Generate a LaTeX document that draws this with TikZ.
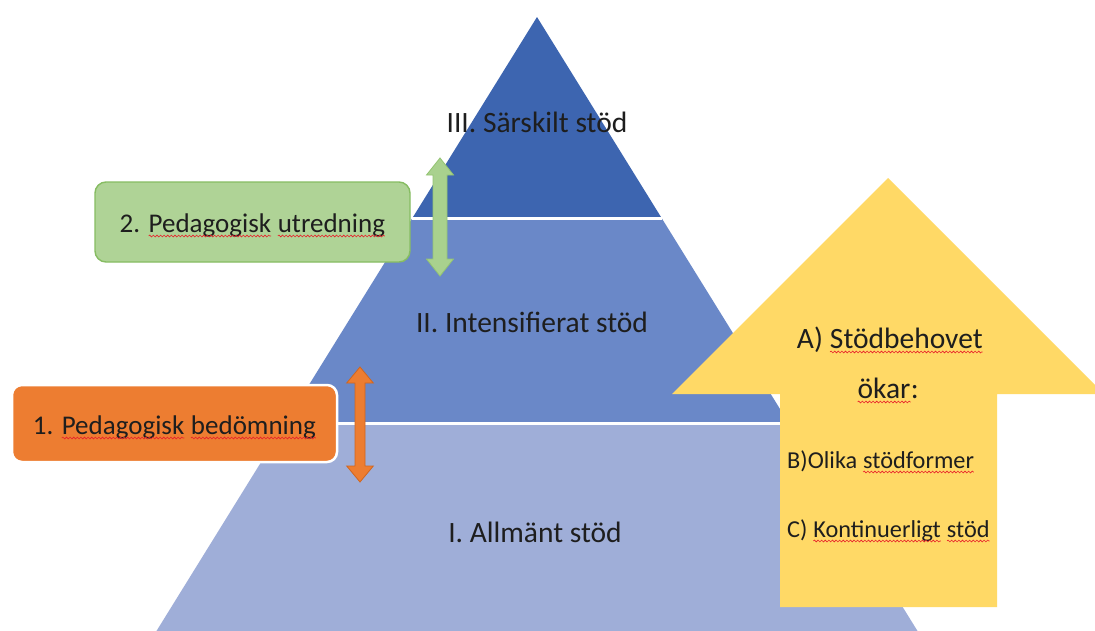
\documentclass[tikz,border=0pt]{standalone}
\usepackage{fontspec}
\setmainfont{Carlito}
\usetikzlibrary{decorations.pathmorphing}
\definecolor{spell}{HTML}{E8202A}
\definecolor{ink}{HTML}{1E1E1E}
\definecolor{topblue}{HTML}{3D65B0}
\definecolor{midblue}{HTML}{6A88C8}
\definecolor{botblue}{HTML}{9FAED8}
\definecolor{gfill}{HTML}{AFD396}
\definecolor{gline}{HTML}{86BC62}
\definecolor{garrow}{HTML}{A9D18E}
\definecolor{garrowline}{HTML}{93C472}
\definecolor{ofill}{HTML}{ED7D31}
\definecolor{oline}{HTML}{D0661F}
\definecolor{yfill}{HTML}{FFD966}
\newcommand\redwave[1]{\tikz[baseline=(w.base)]{\node[inner sep=0pt, outer sep=0pt] (w) {#1};
  \draw[spell, line width=0.6pt, decorate, decoration={snake, amplitude=0.9pt, segment length=3.6pt}]
  ([yshift=-4pt]w.base west) -- ([yshift=-4pt]w.base east);}}
\begin{document}
\begin{tikzpicture}[x=1pt,y=-1pt,
  lbl/.style={font=\fontsize{29.5}{35}\selectfont, text=ink, inner sep=0pt},
  boxtxt/.style={font=\fontsize{27}{32}\selectfont, text=ink, inner sep=0pt},
  smalltxt/.style={font=\fontsize{24.3}{29}\selectfont, text=ink, inner sep=0pt},
  gbox/.style={draw=gline, fill=gfill, line width=1.4pt, rounded corners=11pt, minimum width=315pt, minimum height=80pt, inner sep=0pt},
  obox/.style={draw=white, fill=ofill, line width=2.5pt, rounded corners=10pt, minimum width=325pt, minimum height=77pt, inner sep=0pt}]
\useasboundingbox (0,0) rectangle (1095,630);
\clip (0,0) rectangle (1095,630);
\fill[white] (0,0) rectangle (1095,630);

% pyramid bands
\coordinate (apex) at (537,17);
\coordinate (l1) at (412.4,218); \coordinate (r1) at (661.6,218);
\coordinate (l2) at (285.3,423); \coordinate (r2) at (788.7,423);
\coordinate (l3) at (154,635); \coordinate (r3) at (920,635);
\fill[topblue] (apex) -- (r1) -- (l1) -- cycle;
\fill[midblue] (l1) -- (r1) -- (r2) -- (l2) -- cycle;
\fill[botblue] (l2) -- (r2) -- (r3) -- (l3) -- cycle;
\draw[white, line width=3pt] (l1) -- (r1);
\draw[white, line width=3pt] (l2) -- (r2);

\node[lbl, anchor=base] (t3) at (537,132) {III. Särskilt stöd};
\node[lbl, anchor=base] (t2) at (532,332) {II. Intensifierat stöd};
\node[lbl, anchor=base] (t1) at (535,542) {I. Allmänt stöd};

% green box and double arrow
\node[gbox] (box2) at (252.5,222) {};
\node[boxtxt, anchor=base] (box2txt) at (252.5,232) {2. \redwave{Pedagogisk} \redwave{utredning}};
\draw[fill=garrow, draw=garrowline, line width=0.8pt]
  (440,158) -- (453.5,175) -- (447,175) -- (447,259) -- (453.5,259) -- (440,276)
  -- (426.5,259) -- (433,259) -- (433,175) -- (426.5,175) -- cycle;

% orange box and double arrow
\node[obox] (box1) at (174.5,423.5) {};
\node[boxtxt, anchor=base] (box1txt) at (174.5,434) {1. \redwave{Pedagogisk} \redwave{bedömning}};
\draw[fill=ofill, draw=oline, line width=0.8pt]
  (360,367) -- (373.3,383) -- (365,383) -- (365,466) -- (373.3,466) -- (360,482)
  -- (346.7,466) -- (355,466) -- (355,383) -- (346.7,383) -- cycle;

% yellow up arrow
\fill[yfill] (888,178) -- (1104,394) -- (997,394) -- (997,607) -- (780,607) -- (780,394) -- (672,394) -- cycle;
\node[lbl, anchor=base] (ya) at (890,348) {A) \redwave{Stödbehovet}};
\node[lbl, anchor=base] (yb) at (888,398) {\redwave{ökar}:};
\node[smalltxt, anchor=base west] (yc) at (787,468) {B)Olika \redwave{stödformer}};
\node[smalltxt, anchor=base west] (yd) at (787,537) {C) \redwave{Kontinuerligt} \redwave{stöd}};
\end{tikzpicture}
\end{document}
